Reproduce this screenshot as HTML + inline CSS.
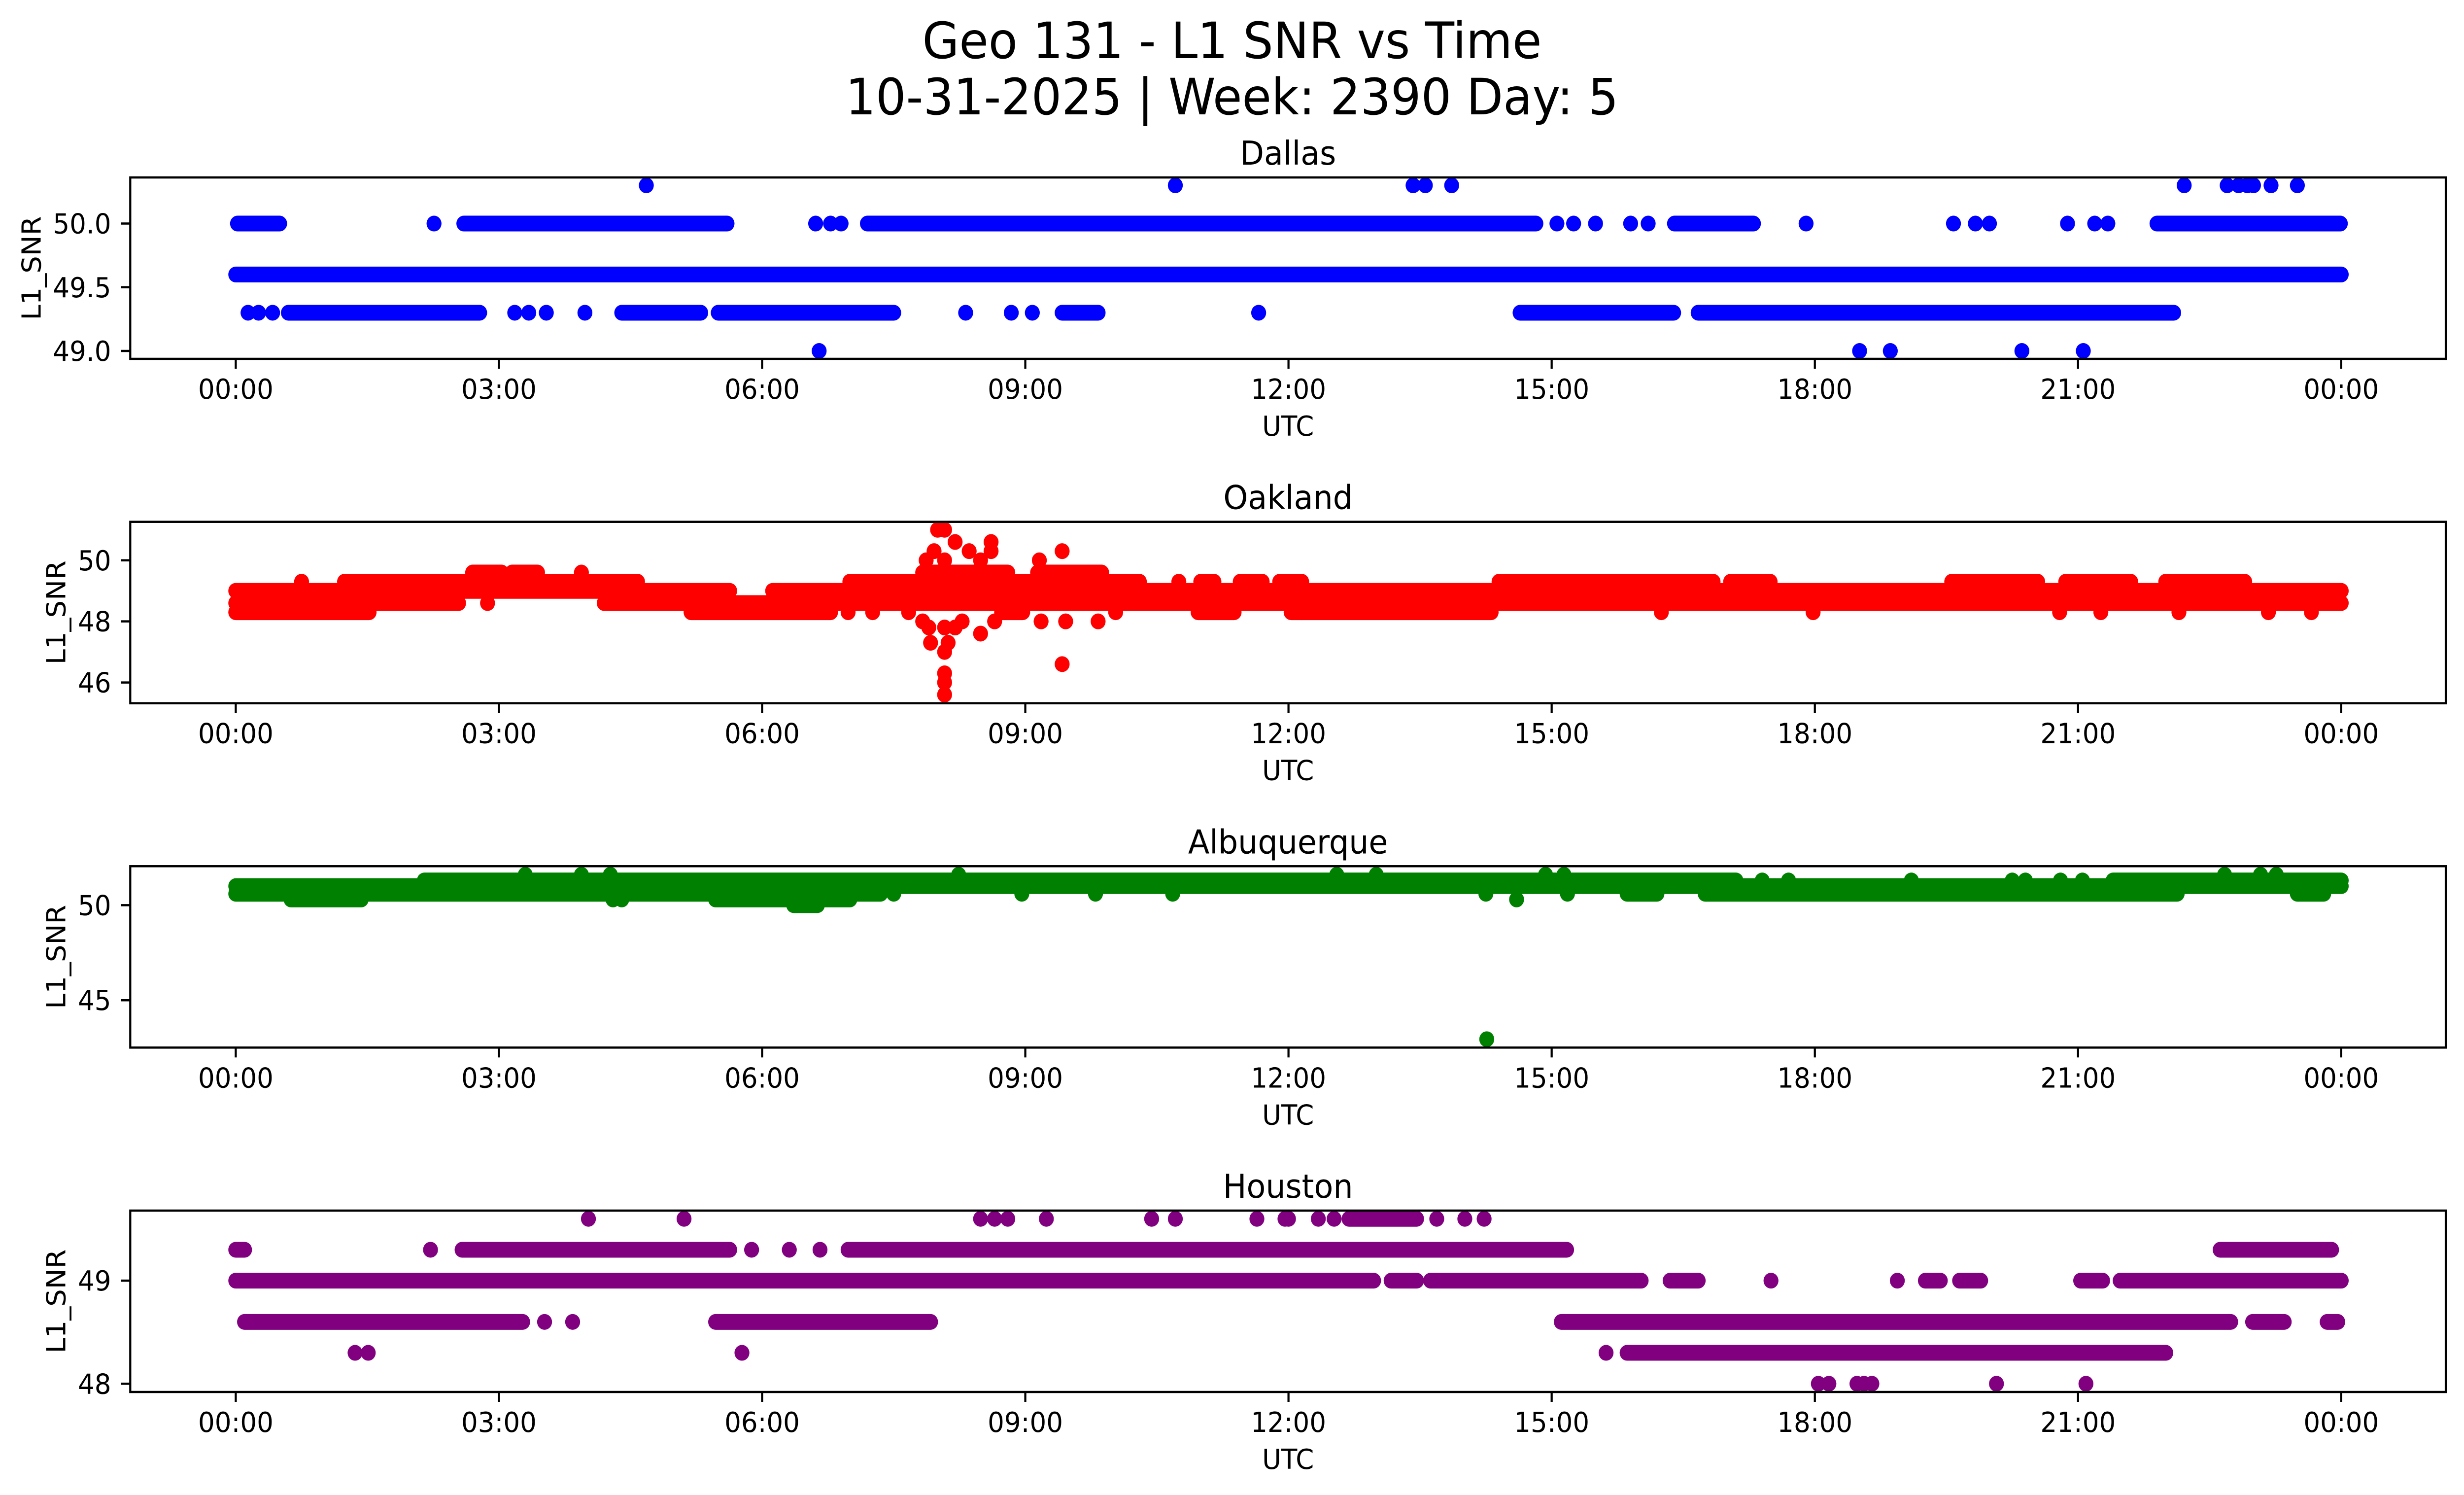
<!DOCTYPE html>
<html>
<head>
<meta charset="utf-8">
<style>
html,body{margin:0;padding:0;background:#fff;overflow:hidden;width:100%;height:100%;}
svg{display:block;position:absolute;left:0;top:0;width:100vw;height:100vh;font-family:"DejaVu Sans","Liberation Sans",sans-serif;}
</style>
</head>
<body>
<svg id="fig" viewBox="0 0 5278 3033" preserveAspectRatio="none" xmlns="http://www.w3.org/2000/svg">
<rect x="0" y="0" width="5278" height="3033" fill="#fff"/>
<text x="2639" y="118" font-size="102" text-anchor="middle">Geo 131 - L1 SNR vs Time</text>
<text x="2639" y="232" font-size="102" text-anchor="middle">10-31-2025 | Week: 2390 Day: 5</text>
</svg>
<script>
// ---- shared x-axis ticks ----
const xTickHours = [0,3,6,9,12,15,18,21,24];
const xTickLabels = ["00:00","03:00","06:00","09:00","12:00","15:00","18:00","21:00","00:00"];

// ---- Dallas ----
const dallasTitle = "Dallas";
const dallasYTicks = [49.0,49.5,50.0];
const dallasYTickLabels = ["49.0","49.5","50.0"];
const dallasRunVals   = [50.0,50.0,50.0,50.0,50.0, 49.6, 49.3,49.3,49.3,49.3,49.3,49.3];
const dallasRunStarts = [0.02,2.6,7.2,16.4,21.9, 0.0, 0.6,4.4,5.5,9.42,14.64,16.67];
const dallasRunEnds   = [0.5,5.6,14.82,17.3,23.99, 24.0, 2.78,5.3,7.5,9.83,16.39,22.09];
const dallasPtHours = [2.26,6.61,6.78,6.9,15.06,15.25,15.5,15.9,16.1,17.9,19.58,19.83,19.99,20.88,21.19,21.34,
  0.14,0.26,0.42,3.18,3.34,3.54,3.98,8.32,8.84,9.08,11.66,
  4.68,10.71,13.42,13.56,13.86,22.21,22.7,22.83,22.93,23.0,23.2,23.5,
  6.65,18.51,18.86,20.36,21.06];
const dallasPtVals = [50,50,50,50,50,50,50,50,50,50,50,50,50,50,50,50,
  49.3,49.3,49.3,49.3,49.3,49.3,49.3,49.3,49.3,49.3,49.3,
  50.3,50.3,50.3,50.3,50.3,50.3,50.3,50.3,50.3,50.3,50.3,50.3,
  49.0,49.0,49.0,49.0,49.0];

// ---- Oakland ----
const oaklandTitle = "Oakland";
const oaklandYTicks = [46,48,50];
const oaklandYTickLabels = ["46","48","50"];
const oaklandRunVals   = [49.6,49.6,49.6,49.6, 49.3,49.3,49.3,49.3,49.3,49.3,49.3,49.3,49.3,49.3,49.3, 49.0,49.0, 48.6,48.6, 48.3,48.3,48.3,48.3,48.3];
const oaklandRunStarts = [2.7,3.15,9.14,7.83, 1.24,7.0,11.0,11.45,11.9,14.4,17.04,19.56,20.86,22.0,12.0, 0.0,6.12, 0.0,4.2, 0.0,5.19,8.73,10.97,12.03];
const oaklandRunEnds   = [3.03,3.44,9.87,8.8, 4.58,10.3,11.15,11.7,12.15,16.84,17.49,20.54,21.6,22.9,12.05, 5.63,24.0, 2.54,24.0, 1.52,6.78,8.97,11.38,14.31];
const oaklandPtHours = [3.94,0.75,10.75,2.87,
  6.98,7.26,7.67,10.03,12.15,16.25,17.98,20.79,21.26,22.15,23.17,23.66,
  8.0,8.08,8.2,7.96,8.36,8.61,8.61,9.42,9.16,7.87,8.08,8.49,
  9.18,9.46,9.83,8.08,8.49,7.92,8.12,8.08,9.42,8.08,8.08,8.08,7.83,8.65,8.28,7.9,8.2];
const oaklandPtVals = [49.6,49.3,49.3,48.6,
  48.3,48.3,48.3,48.3,48.3,48.3,48.3,48.3,48.3,48.3,48.3,48.3,
  51.0,51.0,50.6,50.3,50.3,50.6,50.3,50.3,50.0,50.0,50.0,50.0,
  48.0,48.0,48.0,47.8,47.6,47.3,47.3,47.0,46.6,46.3,46.0,45.6,48.0,48.0,48.0,47.8,47.8];

// ---- Albuquerque ----
const abqTitle = "Albuquerque";
const abqYTicks = [45,50];
const abqYTickLabels = ["45","50"];
const abqRunVals   = [51.0, 51.3,51.3, 50.6,50.6,50.6,50.6, 50.3,50.3, 50.0];
const abqRunStarts = [0.0, 2.15,21.4, 0.0,15.86,16.75,23.5, 0.63,5.47, 6.36];
const abqRunEnds   = [24.0, 17.1,24.0, 7.35,16.2,22.13,23.8, 1.43,7.0, 6.63];
const abqPtHours = [17.4,17.7,19.1,20.25,20.4,20.8,21.05,
  7.5,8.96,9.8,10.68,14.25,15.18,
  4.3,4.4,14.6,
  3.3,3.94,4.27,8.24,12.55,13.0,14.93,15.14,22.67,23.08,23.26,
  14.26];
const abqPtVals = [51.3,51.3,51.3,51.3,51.3,51.3,51.3,
  50.6,50.6,50.6,50.6,50.6,50.6,
  50.3,50.3,50.3,
  51.6,51.6,51.6,51.6,51.6,51.6,51.6,51.6,51.6,51.6,51.6,
  42.95];

// ---- Houston ----
const houTitle = "Houston";
const houYTicks = [48,49];
const houYTickLabels = ["48","49"];
const houRunVals   = [49.6, 49.3,49.3,49.3,49.3, 49.0,49.0,49.0,49.0,49.0,49.0,49.0,49.0, 48.6,48.6,48.6,48.6,48.6, 48.3];
const houRunStarts = [12.69, 0.0,2.58,6.98,22.62, 0.0,13.17,13.62,16.35,19.26,19.65,21.03,21.48, 0.1,5.47,15.11,22.99,23.84, 15.86];
const houRunEnds   = [13.46, 0.1,5.63,15.17,23.89, 12.97,13.46,16.02,16.67,19.43,19.89,21.28,24.0, 3.27,7.92,22.74,23.35,23.96, 22.0];
const houPtHours = [4.02,5.11,8.49,8.65,8.8,9.24,10.44,10.71,11.64,11.96,12.0,12.34,12.52,13.69,14.01,14.23,
  2.22,5.88,6.31,6.66,
  17.5,18.94,
  3.52,3.84,
  1.36,1.51,5.77,15.62,
  18.04,18.16,18.48,18.56,18.65,20.07,21.09];
const houPtVals = [49.6,49.6,49.6,49.6,49.6,49.6,49.6,49.6,49.6,49.6,49.6,49.6,49.6,49.6,49.6,49.6,
  49.3,49.3,49.3,49.3,
  49.0,49.0,
  48.6,48.6,
  48.3,48.3,48.3,48.3,
  48.0,48.0,48.0,48.0,48.0,48.0,48.0];

const NS = "http://www.w3.org/2000/svg";
const svg = document.getElementById("fig");
const AX_LEFT = 279, AX_RIGHT = 5239, AX_H = 368;
const X0 = 505, PX_PER_HOUR = 4510/24;
const R = 16;
function xScale(h){ return X0 + h*PX_PER_HOUR; }
function mk(tag, attrs, parent){
  const e = document.createElementNS(NS, tag);
  for (const k in attrs) e.setAttribute(k, attrs[k]);
  (parent||svg).appendChild(e);
  return e;
}

function drawPanel(key, top, yMin, yMax, color, title, yTicks, yTickLabels, runVals, runStarts, runEnds, ptHours, ptVals, ylabelX){
  const bottom = top + AX_H;
  const yScale = v => bottom - (v - yMin)/(yMax - yMin)*AX_H;
  const g = mk("g", {});
  
  
  const clipId = "clip-" + key;
  const cp = mk("clipPath", {id: clipId}, g);
  mk("rect", {x: AX_LEFT, y: top, width: AX_RIGHT-AX_LEFT, height: AX_H}, cp);
  const marks = mk("g", {"clip-path": "url(#"+clipId+")"}, g);
  
  
  for (let i=0;i<runVals.length;i++){
    const y = yScale(runVals[i]);
    const l = mk("line", {x1: xScale(runStarts[i]), x2: xScale(runEnds[i]), y1: y, y2: y,
      stroke: color, "stroke-width": 2*R, "stroke-linecap": "round"}, marks);
    
    
  }
  for (let i=0;i<ptHours.length;i++){
    const c = mk("circle", {cx: xScale(ptHours[i]), cy: yScale(ptVals[i]), r: R, fill: color}, marks);
    
    
  }
  const fr = mk("rect", {x: AX_LEFT, y: top, width: AX_RIGHT-AX_LEFT, height: AX_H, fill: "none", stroke: "#000", "stroke-width": 4.5}, g);
  
  
  for (let i=0;i<xTickHours.length;i++){
    const x = xScale(xTickHours[i]);
    const t = mk("line", {x1: x, x2: x, y1: bottom, y2: bottom+20, stroke: "#000", "stroke-width": 4.5}, g);
    
    
    const tl = mk("text", {x: x, y: bottom+81, "font-size": 56, "text-anchor": "middle"}, g);
    tl.textContent = xTickLabels[i];
    
    
  }
  for (let i=0;i<yTicks.length;i++){
    const y = yScale(yTicks[i]);
    const t = mk("line", {x1: AX_LEFT-20, x2: AX_LEFT, y1: y, y2: y, stroke: "#000", "stroke-width": 4.5}, g);
    
    
    const tl = mk("text", {x: 238, y: y+20, "font-size": 56, "text-anchor": "end"}, g);
    tl.textContent = yTickLabels[i];
    
    
  }
  const xl = mk("text", {x: (AX_LEFT+AX_RIGHT)/2, y: bottom+156, "font-size": 56, "text-anchor": "middle"}, g);
  xl.textContent = "UTC";
  
  
  const cy = top + AX_H/2;
  const yl = mk("text", {x: ylabelX, y: cy, "font-size": 56, "text-anchor": "middle", transform: "rotate(-90 "+ylabelX+" "+cy+")"}, g);
  yl.textContent = "L1_SNR";
  
  
  const tt = mk("text", {x: (AX_LEFT+AX_RIGHT)/2, y: top-26, "font-size": 67, "text-anchor": "middle"}, g);
  tt.textContent = title;
  
  
}

drawPanel("dallas", 360, 48.938, 50.362, "#0000ff", dallasTitle, dallasYTicks, dallasYTickLabels,
  dallasRunVals, dallasRunStarts, dallasRunEnds, dallasPtHours, dallasPtVals, 87);
drawPanel("oakland", 1058.7, 45.32, 51.26, "#ff0000", oaklandTitle, oaklandYTicks, oaklandYTickLabels,
  oaklandRunVals, oaklandRunStarts, oaklandRunEnds, oaklandPtHours, oaklandPtVals, 140);
drawPanel("albuquerque", 1757.3, 42.51, 52.05, "#008000", abqTitle, abqYTicks, abqYTickLabels,
  abqRunVals, abqRunStarts, abqRunEnds, abqPtHours, abqPtVals, 140);
drawPanel("houston", 2456, 47.92, 49.68, "#800080", houTitle, houYTicks, houYTickLabels,
  houRunVals, houRunStarts, houRunEnds, houPtHours, houPtVals, 140);
</script>
</body>
</html>
